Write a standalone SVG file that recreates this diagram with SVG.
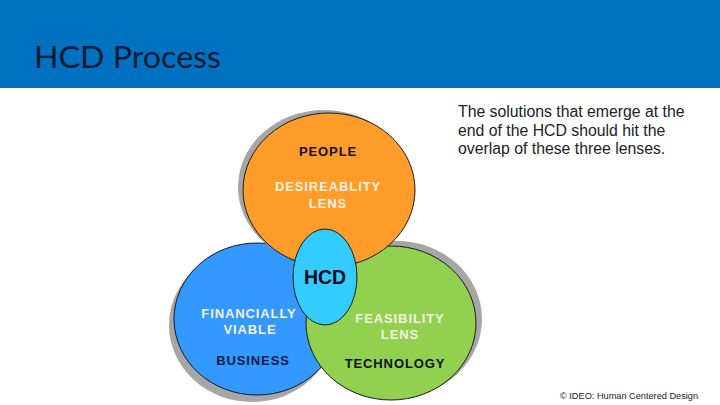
<svg xmlns="http://www.w3.org/2000/svg" width="720" height="405" viewBox="0 0 720 405">
<style>
.shadow{fill:#a6a6a6}
.lens{stroke:#1a1a1a;stroke-width:1}
.lbl{font-family:"Liberation Sans",Arial,sans-serif;font-weight:bold;font-size:13px;text-anchor:middle;letter-spacing:0.9px}
.light{fill:#f4f1e4}
.dark{fill:#111111}
.note{font-family:"Liberation Sans",Arial,sans-serif;font-size:15.8px;fill:#222222}
</style>
<rect x="0" y="0" width="720" height="405" fill="#ffffff"/>
<g id="header">
<rect x="0" y="0" width="720" height="88" fill="#0070c0"/>
<text x="34" y="68" font-family="Lato,'Open Sans',sans-serif" font-size="31" fill="#0b1a33" textLength="187" lengthAdjust="spacingAndGlyphs">HCD Process</text>
</g>
<g id="business">
<ellipse class="shadow" cx="252" cy="325" rx="83" ry="77"/>
<ellipse class="lens" cx="257" cy="319" rx="83" ry="76" fill="#3399ff"/>
<text class="lbl light" x="249" y="318">FINANCIALLY</text>
<text class="lbl light" x="250" y="334">VIABLE</text>
<text class="lbl" x="253" y="365" fill="#0b1a4a">BUSINESS</text>
</g>
<g id="technology">
<ellipse class="shadow" cx="397" cy="319" rx="85" ry="78"/>
<ellipse class="lens" cx="391" cy="323" rx="85" ry="77" fill="#92d050"/>
<text class="lbl light" x="400" y="323">FEASIBILITY</text>
<text class="lbl light" x="400" y="339">LENS</text>
<text class="lbl dark" x="395" y="368">TECHNOLOGY</text>
</g>
<g id="people">
<ellipse class="shadow" cx="324" cy="187" rx="86" ry="77"/>
<ellipse class="lens" cx="329" cy="190" rx="86" ry="77" fill="#ff9c2a"/>
<text class="lbl dark" x="328" y="156">PEOPLE</text>
<text class="lbl light" x="328" y="191">DESIREABLITY</text>
<text class="lbl light" x="328" y="208">LENS</text>
</g>
<g id="hcd">
<ellipse class="lens" cx="325" cy="277" rx="32" ry="48" fill="#33ccff"/>
<text x="325" y="284" font-family="'Liberation Sans',Arial,sans-serif" font-weight="bold" font-size="19.5" text-anchor="middle" fill="#0a0a22">HCD</text>
</g>
<g id="connectors"></g>
<g id="note">
<text class="note" x="458" y="117">The solutions that emerge at the</text>
<text class="note" x="458" y="136">end of the HCD should hit the</text>
<text class="note" x="458" y="154">overlap of these three lenses.</text>
</g>
<text x="560" y="399" font-family="'Liberation Sans',Arial,sans-serif" font-size="9.2" fill="#222222">© IDEO: Human Centered Design</text>
</svg>
